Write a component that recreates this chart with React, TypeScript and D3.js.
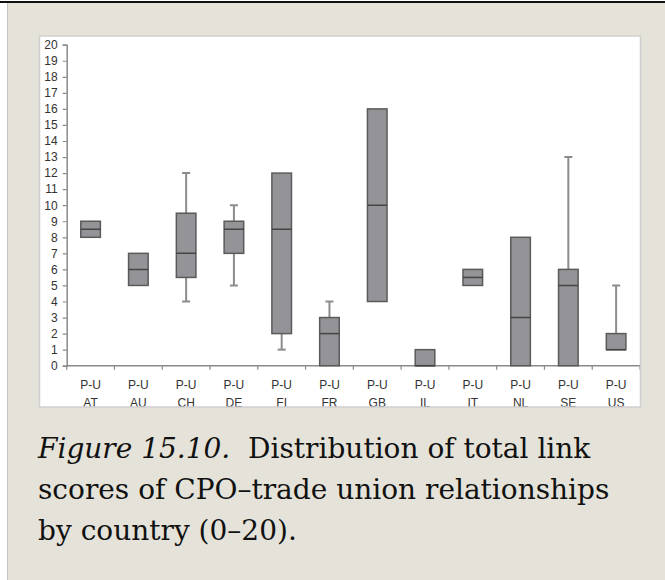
import React, { useEffect, useRef } from "react";
import * as d3 from "d3";

const countries = ["AT", "AU", "CH", "DE", "FI", "FR", "GB", "IL", "IT", "NL", "SE", "US"];
const groupLabel = "P-U";
const whiskerLow = [8, 5, 4, 5, 1, 0, 4, 0, 5, 0, 0, 1];
const q1 = [8, 5, 5.5, 7, 2, 0, 4, 0, 5, 0, 0, 1];
const medians = [8.5, 6, 7, 8.5, 8.5, 2, 10, 0, 5.5, 3, 5, 1];
const q3 = [9, 7, 9.5, 9, 12, 3, 16, 1, 6, 8, 6, 2];
const whiskerHigh = [9, 7, 12, 10, 12, 4, 16, 1, 6, 8, 13, 5];
const yTicks = d3.range(0, 21);
const captionLines = [
  ["Figure 15.10.", "  Distribution of total link"],
  ["", "scores of CPO\u2013trade union relationships"],
  ["", "by country (0\u201320)."],
];

const W = 665;
const H = 580;

export default function App() {
  const ref = useRef<SVGSVGElement>(null);

  useEffect(() => {
    const svg = d3.select(ref.current);
    svg.selectAll("*").remove();

    // page background
    svg.append("rect").attr("x", 0).attr("y", 0).attr("width", W).attr("height", H).attr("fill", "#ffffff");
    svg.append("rect").attr("x", 7).attr("y", 3).attr("width", W - 7).attr("height", H - 3).attr("fill", "#E5E3D9");
    svg.append("rect").attr("x", 7).attr("y", 3).attr("width", 1).attr("height", H - 3).attr("fill", "#c4c4c0");
    svg.append("rect").attr("x", 0).attr("y", 1).attr("width", W).attr("height", 2).attr("fill", "#111");

    // chart image box
    const bx = 39.5, by = 36, bw = 601, bh = 371;
    const defs = svg.append("defs");
    defs.append("clipPath").attr("id", "boxclip").append("rect").attr("x", bx).attr("y", by).attr("width", bw).attr("height", bh);
    svg.append("rect").attr("x", bx).attr("y", by).attr("width", bw).attr("height", bh).attr("fill", "#fff");

    const g = svg.append("g").attr("clip-path", "url(#boxclip)");

    const y = d3.scaleLinear().domain([0, 20]).range([365.7, 44.7]);
    const x = d3.scaleBand<string>().domain(countries).range([66.7, 640]);

    const axisColor = "#8a8a8a";
    const textColor = "#333";
    const font = "Liberation Sans, Arial, sans-serif";

    // y axis
    const yAxis = g.append("g").attr("transform", `translate(66.7,0)`)
      .call(d3.axisLeft(y).tickValues(yTicks).tickSize(4).tickPadding(5).tickFormat(d3.format("d")));
    yAxis.select(".domain").attr("stroke", axisColor).attr("stroke-width", 1.5);
    yAxis.selectAll(".tick line").attr("stroke", axisColor).attr("stroke-width", 1.2);
    yAxis.selectAll(".tick text").attr("fill", textColor).attr("font-size", 12).attr("font-family", font);

    // x axis
    const xa = g.append("g");
    xa.append("line").attr("x1", 66.7).attr("x2", 640).attr("y1", y(0)).attr("y2", y(0))
      .attr("stroke", axisColor).attr("stroke-width", 1.5);
    const bounds = countries.map((c) => x(c)!).concat([x.range()[1]]);
    xa.selectAll("line.xt").data(bounds).enter().append("line").attr("class", "xt")
      .attr("x1", (d) => d).attr("x2", (d) => d).attr("y1", y(0)).attr("y2", y(0) + 4)
      .attr("stroke", axisColor).attr("stroke-width", 1.2);
    const lab = xa.selectAll("g.lab").data(countries).enter().append("g").attr("class", "lab")
      .attr("transform", (d) => `translate(${x(d)! + x.bandwidth() / 2},0)`);
    lab.append("text").attr("y", 389.3).attr("text-anchor", "middle").attr("font-size", 12)
      .attr("font-family", font).attr("fill", textColor).text(groupLabel);
    lab.append("text").attr("y", 407.3).attr("text-anchor", "middle").attr("font-size", 12)
      .attr("font-family", font).attr("fill", textColor).text((d) => d);

    // boxes
    const boxW = x.bandwidth() * 0.41;
    const capW = 8;
    const whiskerColor = "#8c8c8c";
    const boxStroke = "#5a5a5a";
    const boxFill = "#949498";
    countries.forEach((c, i) => {
      const cx = x(c)! + x.bandwidth() / 2;
      const gg = g.append("g");
      if (whiskerHigh[i] > q3[i]) {
        gg.append("line").attr("x1", cx).attr("x2", cx).attr("y1", y(q3[i])).attr("y2", y(whiskerHigh[i]))
          .attr("stroke", whiskerColor).attr("stroke-width", 2);
        gg.append("line").attr("x1", cx - capW / 2).attr("x2", cx + capW / 2)
          .attr("y1", y(whiskerHigh[i])).attr("y2", y(whiskerHigh[i]))
          .attr("stroke", whiskerColor).attr("stroke-width", 2);
      }
      if (whiskerLow[i] < q1[i]) {
        gg.append("line").attr("x1", cx).attr("x2", cx).attr("y1", y(q1[i])).attr("y2", y(whiskerLow[i]))
          .attr("stroke", whiskerColor).attr("stroke-width", 2);
        gg.append("line").attr("x1", cx - capW / 2).attr("x2", cx + capW / 2)
          .attr("y1", y(whiskerLow[i])).attr("y2", y(whiskerLow[i]))
          .attr("stroke", whiskerColor).attr("stroke-width", 2);
      }
      gg.append("rect").attr("x", cx - boxW / 2).attr("y", y(q3[i])).attr("width", boxW)
        .attr("height", y(q1[i]) - y(q3[i])).attr("fill", boxFill).attr("stroke", boxStroke).attr("stroke-width", 1.5);
      gg.append("line").attr("x1", cx - boxW / 2).attr("x2", cx + boxW / 2)
        .attr("y1", y(medians[i])).attr("y2", y(medians[i]))
        .attr("stroke", "#444").attr("stroke-width", 1.5);
    });

    // box border
    svg.append("rect").attr("x", bx).attr("y", by).attr("width", bw).attr("height", bh)
      .attr("fill", "none").attr("stroke", "#cfcfcf").attr("stroke-width", 1.5);

    // caption
    const cap = svg.append("g").attr("font-family", "DejaVu Serif, serif").attr("font-size", 28).attr("fill", "#111");
    captionLines.forEach((ln, i) => {
      const t = cap.append("text").attr("x", 38).attr("y", 457.5 + i * 41).attr("xml:space", "preserve")
        .style("white-space", "pre");
      if (ln[0]) t.append("tspan").attr("font-style", "italic").text(ln[0]);
      t.append("tspan").text(ln[1]);
    });
  }, []);

  return (
    <svg ref={ref} width={W} height={H} style={{ position: "absolute", left: 0, top: 0, display: "block" }} />
  );
}
